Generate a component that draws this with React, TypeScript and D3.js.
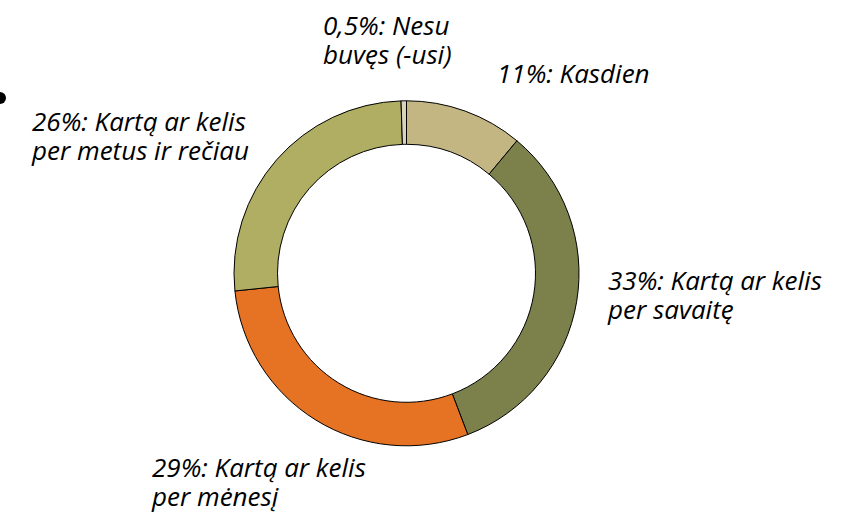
import React from "react";
import * as d3 from "d3";

const categories = [
  "Kasdien",
  "Kartą ar kelis per savaitę",
  "Kartą ar kelis per mėnesį",
  "Kartą ar kelis per metus ir rečiau",
  "Nesu buvęs (-usi)",
];
const values = [11, 33, 29, 26, 0.5];
const colors = ["#C4B683", "#7C804A", "#E67323", "#AFAE63", "#D9D3BC"];
const labelLines = [
  ["11%: Kasdien"],
  ["33%: Kartą ar kelis", "per savaitę"],
  ["29%: Kartą ar kelis", "per mėnesį"],
  ["26%: Kartą ar kelis", "per metus ir rečiau"],
  ["0,5%: Nesu", "buvęs (-usi)"],
];
const labelPos: [number, number][] = [
  [497, 83],
  [608, 290],
  [152, 477],
  [32, 131],
  [323, 35],
];

export default function App() {
  const W = 862, H = 521;
  const cx = 406.5, cy = 273.3;
  const pie = d3.pie<number>().sort(null).value((d) => d);
  const arcs = pie(values);
  const arc = d3.arc<d3.PieArcDatum<number>>().innerRadius(129).outerRadius(172.5);
  return (
    <svg width={W} height={H} style={{ position: "absolute", left: 0, top: 0, background: "#fff" }}>
      <g transform={`translate(${cx},${cy})`}>
        {arcs.map((a, i) => (
          <path key={categories[i]} d={arc(a) || ""} fill={colors[i]} stroke="#000" strokeWidth={1} />
        ))}
      </g>
      <ellipse cx={0} cy={98} rx={6} ry={6} fill="#000" />
      {labelLines.map((lines, i) => (
        <text
          key={i}
          x={labelPos[i][0]}
          y={labelPos[i][1]}
          fontFamily="'Open Sans', 'Noto Sans', sans-serif"
          fontStyle="italic"
          fontSize={26}
          fill="#000"
        >
          {lines.map((l, j) => (
            <tspan key={j} x={labelPos[i][0]} dy={j === 0 ? 0 : 29}>
              {l}
            </tspan>
          ))}
        </text>
      ))}
    </svg>
  );
}
